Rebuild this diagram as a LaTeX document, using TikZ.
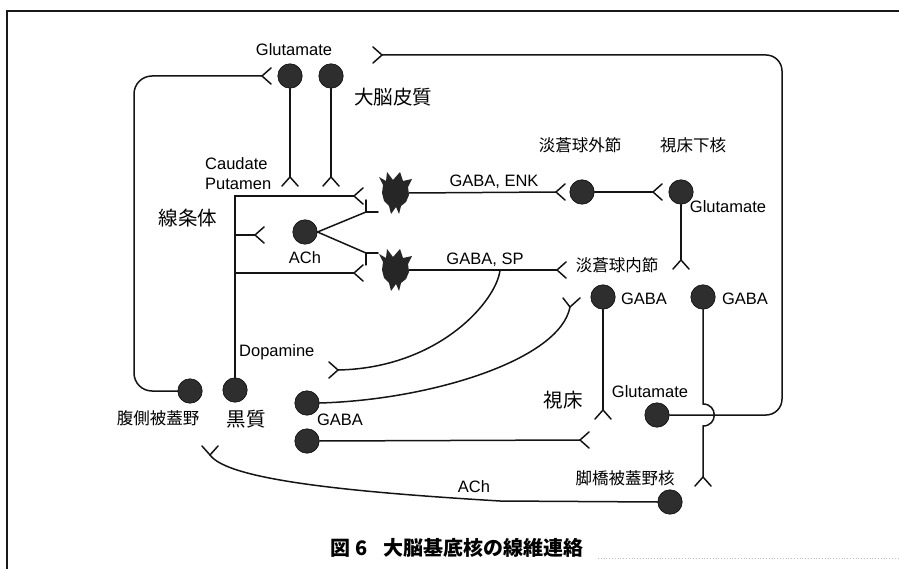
\documentclass[tikz,border=0pt]{standalone}
\usepackage{fontspec}
\setmainfont{Liberation Sans}
\newfontfamily\jp{Noto Sans CJK JP}
\begin{document}
\begin{tikzpicture}[x=1pt,y=-1pt,
  axon/.style={line width=1.5pt, draw=black!92, line cap=round},
  soma/.style={circle, fill=black!82, draw=black, line width=0.5pt, minimum size=24.5pt, inner sep=0pt},
  msn/.style={inner sep=0pt, minimum width=28pt, minimum height=30pt},
  lbl/.style={font=\fontsize{16.5}{18}\selectfont, inner sep=0pt},
  jlbl/.style={font=\jp\fontsize{16.5}{18}\selectfont, inner sep=0pt},
  jbig/.style={font=\jp\fontsize{19.5}{22}\selectfont, inner sep=0pt},
  forkR/.pic={\draw[axon] (9,-8) -- (0,0) -- (9,8);},
  forkL/.pic={\draw[axon] (-9,-8) -- (0,0) -- (-9,8);},
  forkD/.pic={\draw[axon] (-8,9) -- (0,0) -- (8,9);},
  forkU/.pic={\draw[axon] (-8,-9) -- (0,0) -- (8,-9);},
  forkUR/.pic={\draw[axon] (0,-12) -- (0,0) -- (12,0);},
  forkDR/.pic={\draw[axon] (0,12) -- (0,0) -- (12,0);},
  spiny/.pic={\fill[black!85] (-16,-16) -- (-9,-12) -- (-8,-21) -- (-2,-13) -- (5,-21) -- (8,-12)
     -- (17,-14) -- (13,-6) -- (14,2) -- (11,9) -- (6,13) -- (4,21) -- (1,14) -- (-4,21)
     -- (-6,13) -- (-11,8) -- (-13,0) -- (-12,-8) -- cycle;}
]
\useasboundingbox (0,0) rectangle (899,569);

% page frame
\draw[line width=2.6pt, black!90] (899,11) -- (7,11) -- (7,569);
\draw[line width=0.8pt, black!25, dotted] (598,558) -- (899,558);

% cell bodies
\node[soma] (ctx1) at (290,76) {};
\node[soma] (ctx2) at (331,76) {};
\node[soma] (vta)  at (190,391) {};
\node[soma] (snc)  at (235,390) {};
\node[soma] (snrA) at (307,403) {};
\node[soma] (snrB) at (307,441) {};
\node[soma] (ach)  at (305,232) {};
\node[msn]  (msn1) at (395,193) {};
\node[msn]  (msn2) at (395,270) {};
\pic at (msn1) {spiny};
\pic at (msn2) {spiny};
\node[soma] (gpe)  at (582,192) {};
\node[soma] (stn)  at (681,192) {};
\node[soma] (gpi1) at (603,297) {};
\node[soma] (gpi2) at (703,297) {};
\node[soma] (thg)  at (657,415) {};
\node[soma] (ppn)  at (670,502) {};

% synaptic terminals
\coordinate (c1t)    at (290,177);
\coordinate (c2t)    at (331,177);
\coordinate (vtaCtx) at (262,76);
\coordinate (thCtx)  at (382,55);
\coordinate (daTop)  at (354,196);
\coordinate (daMid)  at (255,235);
\coordinate (daBot)  at (354,273);
\coordinate (daj1)   at (235,235);
\coordinate (daj2)   at (235,273);
\coordinate (achUp)  at (366,212);
\coordinate (achDn)  at (366,253);
\coordinate (gpeIn)  at (556,192);
\coordinate (stnIn)  at (653,192);
\coordinate (stnOut) at (681,260);
\coordinate (gpiIn)  at (557,270);
\coordinate (spj)    at (500,270);
\coordinate (snIn)   at (338,370);
\coordinate (gpiIn2) at (570,307);
\coordinate (thIn)   at (603,410);
\coordinate (thIn2)  at (580,440);
\coordinate (ppnIn)  at (703,477);
\coordinate (achIn)  at (210,455);

% pathways
\draw[axon] (ctx1) -- (c1t);
\draw[axon] (ctx2) -- (c2t);
\draw[axon, rounded corners=18pt] (vta.west) -- (134,391) -- (134,76) -- (vtaCtx);
\draw[axon] (snc.north) |- (daTop);
\draw[axon] (daj1) -- (daMid);
\draw[axon] (daj2) -- (daBot);
\draw[axon] (ach.east) -- (achUp);
\draw[axon] (ach.east) -- (achDn);
\draw[axon] (msn1.east) -- (gpeIn);
\draw[axon] (gpe.east) -- (stnIn);
\draw[axon] (stn.south) -- (stnOut);
\draw[axon] (msn2.east) -- (gpiIn);
\draw[axon] (spj) .. controls (497,300) and (440,368) .. (snIn);
\draw[axon] (snrA.east) .. controls (430,400) and (560,360) .. (gpiIn2);
\draw[axon] (gpi1.south) -- (thIn);
\draw[axon] (snrB.east) -- (thIn2);
\draw[axon] (gpi2.south) -- (703,404) .. controls (718,404) and (718,426) .. (703,426) -- (ppnIn);
\draw[axon, rounded corners=16pt] (thg.east) -- (782,415) -- (782,55) -- (thCtx);
\draw[axon] (ppn.west) -- (500,501) .. controls (350,492) and (228,480) .. (achIn);

\pic at (c1t) {forkD};
\pic at (c2t) {forkD};
\pic at (vtaCtx) {forkR};
\pic at (thCtx) {forkL};
\pic at (daTop) {forkR};
\pic at (daMid) {forkR};
\pic at (daBot) {forkR};
\pic at (achUp) {forkUR};
\pic at (achDn) {forkDR};
\pic at (gpeIn) {forkR};
\pic at (stnIn) {forkR};
\pic at (stnOut) {forkD};
\pic at (gpiIn) {forkR};
\pic at (snIn) {forkL};
\pic at (thIn) {forkD};
\pic at (thIn2) {forkR};
\pic at (ppnIn) {forkD};
\pic at (achIn) {forkU};
\draw[axon] (563,298) -- (gpiIn2) -- (580,298);

% labels
\node[lbl] (tGluCtx) at (294,50) {Glutamate};
\node[jbig] (tCtx) at (393,97) {大脳皮質};
\node[lbl, anchor=west] (tCaud) at (205,164) {Caudate};
\node[lbl, anchor=west] (tPut) at (205,184) {Putamen};
\node[jbig] (tStr) at (188,218) {線条体};
\node[lbl] (tAch1) at (305,258) {ACh};
\node[lbl, anchor=west] (tDa) at (239,352) {Dopamine};
\node[jlbl] (tVta) at (158,418) {腹側被蓋野};
\node[jbig] (tSn) at (246,419) {黒質};
\node[lbl] (tGabaSn) at (340,420) {GABA};
\node[lbl] (tEnk) at (494,182) {GABA, ENK};
\node[lbl] (tSp) at (485,260) {GABA, SP};
\node[jlbl] (tGpe) at (580,145) {淡蒼球外節};
\node[jlbl] (tStn) at (693,145) {視床下核};
\node[lbl] (tGluStn) at (728,207) {Glutamate};
\node[jlbl] (tGpi) at (617,265) {淡蒼球内節};
\node[lbl] (tGaba1) at (644,299) {GABA};
\node[lbl] (tGaba2) at (745,299) {GABA};
\node[jbig] (tTh) at (563,400) {視床};
\node[lbl] (tGluTh) at (650,392) {Glutamate};
\node[jlbl] (tPpn) at (625,478) {脚橋被蓋野核};
\node[lbl] (tAch2) at (474,487) {ACh};
\node[font=\jp\bfseries\fontsize{20}{23}\selectfont, inner sep=0pt] (cap) at (457,548) {図 6\hspace{0.8em}大脳基底核の線維連絡};
\end{tikzpicture}
\end{document}
